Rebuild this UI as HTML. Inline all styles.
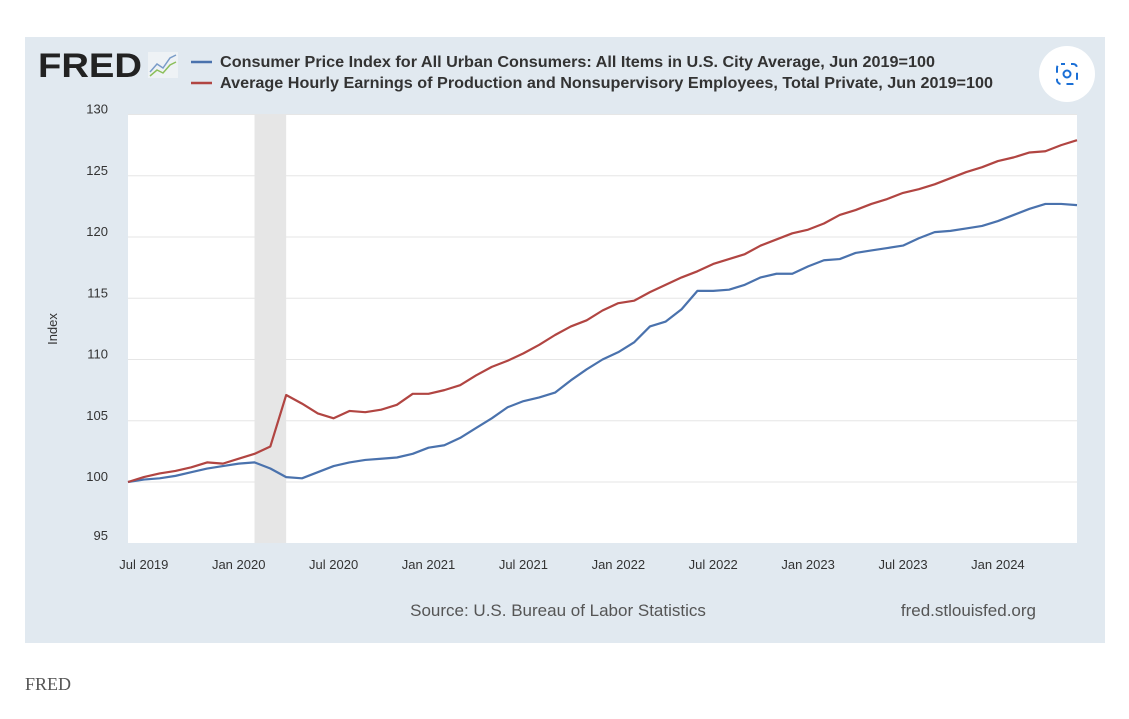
<!DOCTYPE html>
<html><head><meta charset="utf-8"><style>
body{margin:0;background:#fff;width:1129px;height:719px;overflow:hidden}
svg{display:block;font-family:"Liberation Sans",Arial,sans-serif}
</style></head><body>
<svg id="c" width="1129" height="719">
<rect x="25" y="37" width="1080" height="606" fill="#e1e9f0"/>
<rect x="128" y="115" width="949" height="428" fill="#fff"/>
<text x="38" y="77" font-size="34" font-weight="bold" fill="#222" textLength="104" lengthAdjust="spacingAndGlyphs">FRED</text>
<g><rect x="148" y="52" width="30" height="26" fill="#eef2f5"/><polyline points="150,72 157,64 163,68 170,58 176,55" fill="none" stroke="#7a9cc8" stroke-width="1.5"/><polyline points="150,76 157,70 163,73 170,65 176,62" fill="none" stroke="#8cbf5a" stroke-width="1.5"/></g>
<line x1="191" y1="62" x2="212" y2="62" stroke="#4a72ad" stroke-width="2.5"/>
<text x="220" y="67" font-size="15.5" font-weight="bold" fill="#333" textLength="715" lengthAdjust="spacingAndGlyphs">Consumer Price Index for All Urban Consumers: All Items in U.S. City Average, Jun 2019=100</text>
<line x1="191" y1="83" x2="212" y2="83" stroke="#b14542" stroke-width="2.5"/>
<text x="220" y="88" font-size="15.5" font-weight="bold" fill="#333" textLength="773" lengthAdjust="spacingAndGlyphs">Average Hourly Earnings of Production and Nonsupervisory Employees, Total Private, Jun 2019=100</text>
<g><circle cx="1067" cy="74" r="28" fill="#fff"/><rect x="1057" y="64" width="20" height="20" rx="4" fill="none" stroke="#1a6fd6" stroke-width="2" stroke-dasharray="7 6" stroke-dashoffset="3"/><circle cx="1067" cy="74" r="3.5" fill="none" stroke="#1a6fd6" stroke-width="2"/></g>
<text transform="translate(57,329) rotate(-90)" text-anchor="middle" font-size="13" fill="#333">Index</text>
<g id="grid"></g><g id="recession"></g><g id="yt"></g><g id="xt"></g><g id="lines"></g>
<text x="558" y="616" text-anchor="middle" font-size="17" fill="#555">Source: U.S. Bureau of Labor Statistics</text>
<text x="1036" y="616" text-anchor="end" font-size="17" fill="#555">fred.stlouisfed.org</text>
<text x="25" y="690" font-family="Liberation Serif,serif" font-size="18" fill="#555">FRED</text>
</svg>
<script>
const yTicks=[95,100,105,110,115,120,125,130];
const xTickLabels=["Jul 2019","Jan 2020","Jul 2020","Jan 2021","Jul 2021","Jan 2022","Jul 2022","Jan 2023","Jul 2023","Jan 2024"];
const xTickMonths=[1,7,13,19,25,31,37,43,49,55];
const recessionMonths=[8,10];
const cpi=[100,100.2,100.3,100.5,100.8,101.1,101.3,
101.5,101.6,101.1,100.4,100.3,100.8,101.3,101.6,101.8,101.9,102.0,102.3,
102.8,103.0,103.6,104.4,105.2,106.1,106.6,106.9,107.3,108.3,109.2,110.0,
110.6,111.4,112.7,113.1,114.1,115.6,115.6,115.7,116.1,116.7,117.0,117.0,
117.6,118.1,118.2,118.7,118.9,119.1,119.3,119.9,120.4,120.5,120.7,120.9,
121.3,121.8,122.3,122.7,122.7,122.6];
const earnings=[100,100.4,100.7,100.9,101.2,101.6,101.5,
101.9,102.3,102.9,107.1,106.4,105.6,105.2,105.8,105.7,105.9,106.3,107.2,
107.2,107.5,107.9,108.7,109.4,109.9,110.5,111.2,112.0,112.7,113.2,114.0,
114.6,114.8,115.5,116.1,116.7,117.2,117.8,118.2,118.6,119.3,119.8,120.3,
120.6,121.1,121.8,122.2,122.7,123.1,123.6,123.9,124.3,124.8,125.3,125.7,
126.2,126.5,126.9,127.0,127.5,127.9];
const NS="http://www.w3.org/2000/svg";
const X=m=>128+m*(949/60), Y=v=>482-(v-100)*12.25;
function mk(t,a,p){const e=document.createElementNS(NS,t);for(const k in a)e.setAttribute(k,a[k]);document.getElementById(p).appendChild(e);return e;}
yTicks.forEach(v=>{
 if(v>95){const g=mk('line',{x1:128,x2:1077,y1:Y(v),y2:Y(v),stroke:'#e6e6e6','stroke-width':1},'grid');
 
 }
 const t=mk('text',{x:108,y:Math.min(Y(v)-1,540),'text-anchor':'end','font-size':13,fill:'#333'},'yt');t.textContent=v;
 
 
});
const r=mk('rect',{x:X(recessionMonths[0]),y:115,width:X(recessionMonths[1])-X(recessionMonths[0]),height:428,fill:'#e6e6e6'},'recession');


xTickLabels.forEach((l,i)=>{
 const t=mk('text',{x:X(xTickMonths[i]),y:569,'text-anchor':'middle','font-size':13,fill:'#333'},'xt');t.textContent=l;
 
 
});
[[cpi,'#4a72ad','cpi-line'],[earnings,'#b14542','earnings-line']].forEach(([d,c,n])=>{
 const p=mk('polyline',{points:d.map((v,i)=>X(i)+','+Y(v)).join(' '),fill:'none',stroke:c,'stroke-width':2.2,'stroke-linejoin':'round'},'lines');
 
 
});
</script>
</body></html>
